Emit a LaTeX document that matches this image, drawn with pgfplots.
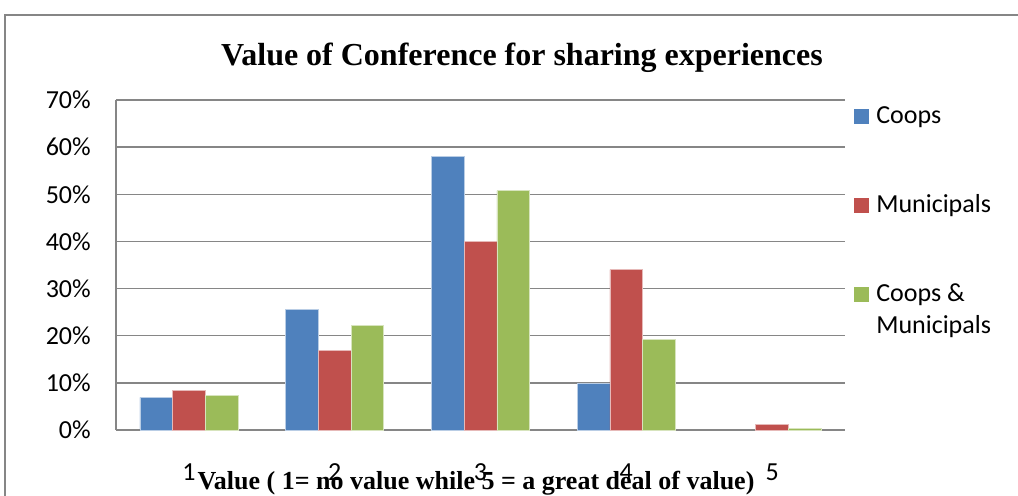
\documentclass[border=0pt]{standalone}
\usepackage{fontspec}
\setmainfont{Liberation Serif}
\newfontfamily\carlito{Carlito}
\usepackage{pgfplots}
\pgfplotsset{compat=1.18}
\definecolor{cblue}{HTML}{4F81BD}
\definecolor{cred}{HTML}{C0504D}
\definecolor{cgreen}{HTML}{9BBB59}
\definecolor{gridgray}{HTML}{868686}
\begin{document}
\begin{tikzpicture}[x=1pt,y=1pt]
\useasboundingbox (0,0) rectangle (763.5,372);
\begin{scope}
\clip (0,0) rectangle (763.5,372);
\draw[gridgray, line width=1.5pt] (3.75,360.75) rectangle (790,-20);
\end{scope}
\begin{axis}[
  at={(87pt,49.5pt)}, anchor=origin,
  scale only axis, width=546.75pt, height=247.5pt,
  xmin=0.5, xmax=5.5, ymin=0, ymax=70,
  xtick={1,2,3,4,5}, ytick={0,10,...,70},
  ymajorgrids, grid style={gridgray, line width=1.1pt},
  axis x line*=bottom, axis y line*=left,
  axis line style={gridgray, line width=1.1pt, -},
  major tick length=0pt,
  /pgf/number format/assume math mode=true,
  ticklabel style={font=\carlito\fontsize{19.5}{23}\selectfont, inner sep=0pt},
  yticklabel={\pgfmathprintnumber{\tick}\%},
  yticklabel style={anchor=east, xshift=-18.75pt},
  xticklabel style={anchor=center, yshift=-31.5pt},
  ybar=0pt, bar width=24.5pt,
  clip=false,
]
\addplot[fill=cblue, draw=white!60!cblue, line width=0.5pt] coordinates {(1,6.9) (2,25.5) (3,58.1) (4,9.8)};
\addplot[fill=cred, draw=white!60!cred, line width=0.5pt] coordinates {(1,8.4) (2,16.8) (3,40.0) (4,34.0) (5,1.2)};
\addplot[fill=cgreen, draw=white!60!cgreen, line width=0.5pt] coordinates {(1,7.4) (2,22.1) (3,50.8) (4,19.3) (5,0.4)};
\end{axis}
% title
\node[font=\bfseries\fontsize{24}{28}\selectfont, inner sep=0pt] at (391.5,328.5) {Value of Conference for sharing experiences};
% x label
\node[font=\bfseries\fontsize{19.5}{23}\selectfont, inner sep=0pt, anchor=base] at (357,4.5) {Value ( 1= no value while 5 = a great deal of value)};
% legend
\fill[cblue] (640.5,279) rectangle (651.75,290.25);
\fill[cred] (640.5,212.25) rectangle (651.75,223.5);
\fill[cgreen] (640.5,145.5) rectangle (651.75,156.75);
\begin{scope}[every node/.style={anchor=base west, inner sep=0pt, font=\carlito\fontsize{19.5}{23}\selectfont}]
\node at (657,279) {Coops};
\node at (657,212.25) {Municipals};
\node at (657,145.5) {Coops \&};
\node at (657,121.5) {Municipals};
\end{scope}
\end{tikzpicture}
\end{document}
